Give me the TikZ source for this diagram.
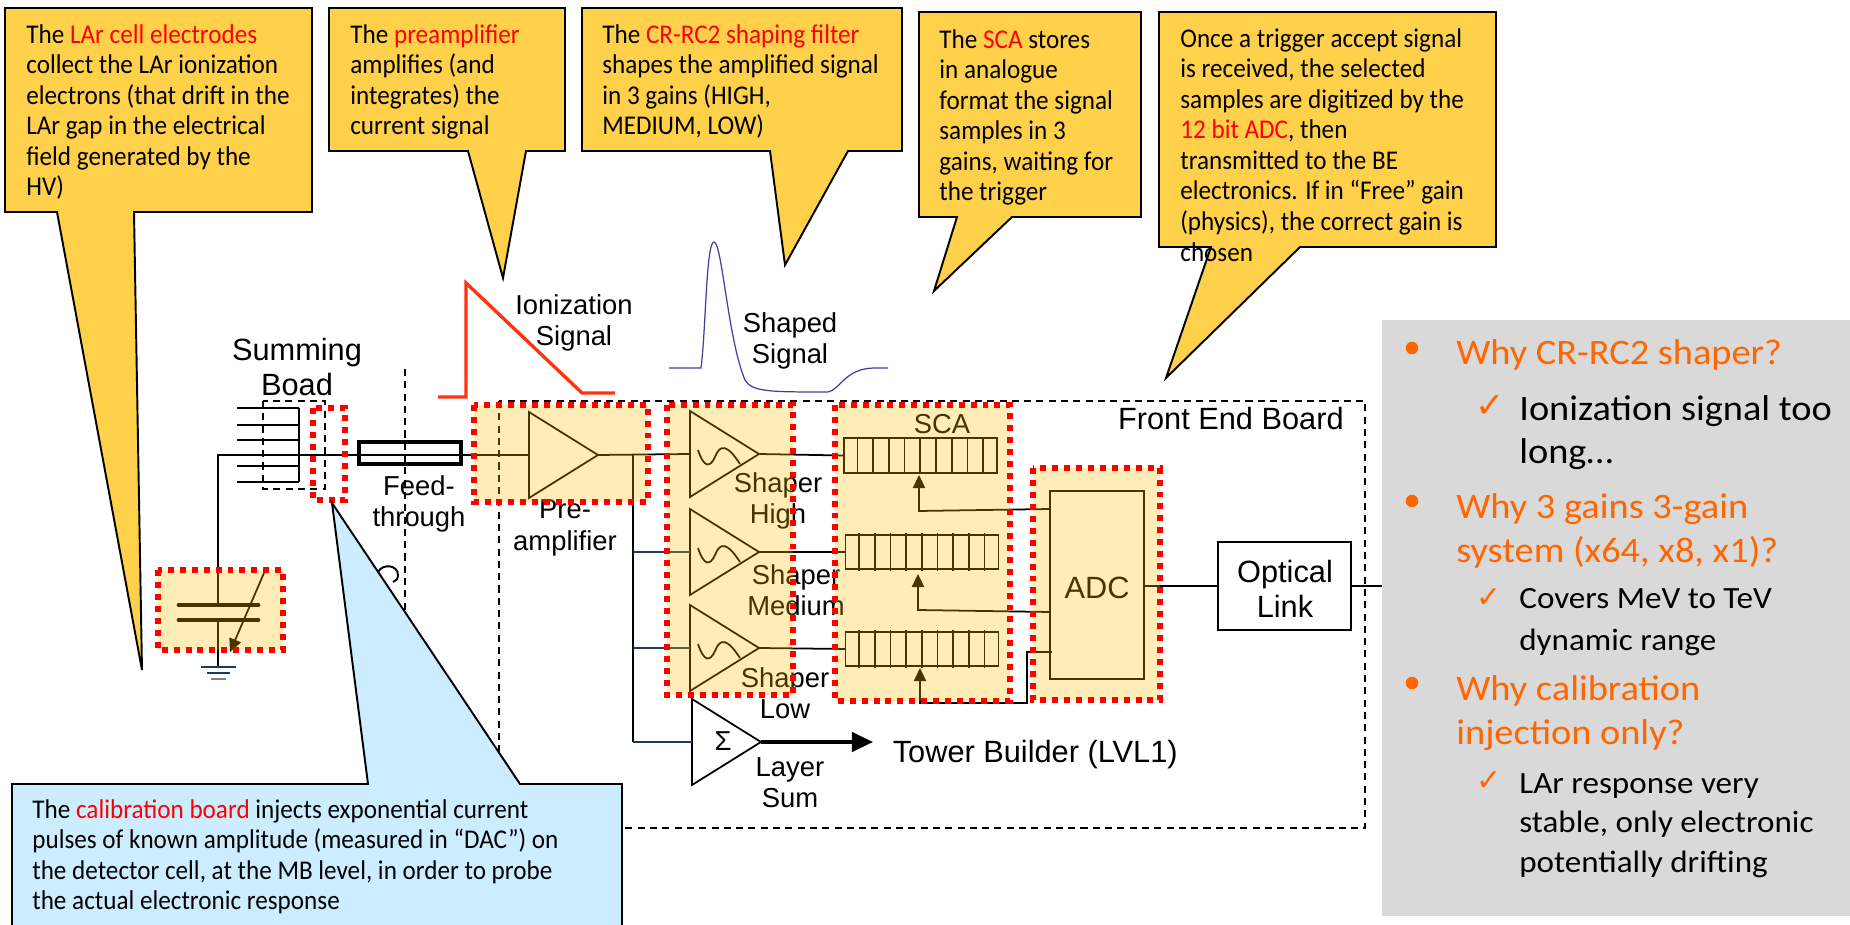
\documentclass[tikz,border=0pt]{standalone}
\usepackage{fontspec}
\setmainfont[FakeStretch=.93]{Carlito}
\newfontfamily\labelfont{Liberation Sans}
\newfontfamily\panelfont[FakeStretch=1.07]{Carlito}
\newfontfamily\tickfont{DejaVu Sans}
\usetikzlibrary{arrows.meta, shapes.geometric}

\definecolor{calloutyellow}{HTML}{FFD04A}
\definecolor{calloutblue}{HTML}{CCECFF}
\definecolor{hiliteyellow}{HTML}{FFC000}
\definecolor{panelgrey}{HTML}{D9D9D9}
\definecolor{panelorange}{HTML}{FF6600}
\definecolor{signalred}{HTML}{FF3311}
\definecolor{shapedblue}{HTML}{3F3FA0}
\definecolor{wirenavy}{HTML}{1F3864}

\newcommand{\redword}[1]{\textcolor{red}{#1}}

\tikzset{
    callout/.style={draw=black, line width=1.1pt, fill=calloutyellow},
    calibcallout/.style={draw=black, line width=1.1pt, fill=calloutblue},
    callouttext/.style={anchor=north west, inner sep=0pt, align=left, font=\fontsize{15.4}{17.4}\selectfont},
    boardline/.style={draw=black, line width=.8pt, dash pattern=on 4pt off 3pt},
    hilite/.style={draw=red, line width=3.6pt, dash pattern=on 3.4pt off 3.4pt, fill=hiliteyellow, fill opacity=.28},
    wire/.style={draw=black, line width=1pt},
    navywire/.style={draw=wirenavy, line width=1pt},
    amp/.style={draw=black, line width=1pt, isosceles triangle, isosceles triangle stretches, shape border rotate=0,
        minimum width=1.72cm, minimum height=1.38cm, inner sep=0pt, outer sep=0pt, anchor=apex},
    cellrow/.style={draw=black, line width=1pt, rectangle, minimum width=3.06cm, minimum height=.69cm, inner sep=0pt, outer sep=0pt},
    lbl/.style={inner sep=0pt, align=center, font=\labelfont\fontsize{17.5}{20}\selectfont},
    smalllbl/.style={inner sep=0pt, align=center, font=\labelfont\fontsize{15.6}{17.8}\selectfont},
    bulletdot/.style={circle, fill=panelorange, minimum size=.25cm, inner sep=0pt},
    tick/.style={inner sep=0pt, text=panelorange, font=\tickfont\fontsize{#1}{#1}\selectfont},
    headtext/.style={anchor=north west, inner sep=0pt, align=left, text=panelorange, font=\panelfont\fontsize{20.4}{25}\selectfont},
    subtext/.style 2 args={anchor=north west, inner sep=0pt, align=left, font=\panelfont\fontsize{#1}{#2}\selectfont},
}

\begin{document}
\begin{tikzpicture}[x=.02cm, y=-.02cm, >={Triangle[length=7.5pt,width=7pt]}]
    \useasboundingbox (0,0) rectangle (1850,925);

    % boards
    \draw[boardline] (499,401) rectangle (1365,828);
    \draw[boardline] (263,401) rectangle (325,489);
    \draw[boardline] (405,369) -- (405,640);
    \draw[line width=1.1pt] (378,572) .. controls (383,563) and (398,565) .. (398,575) .. controls (398,579) and (396,581) .. (393,582);

    % signals
    \draw[signalred, line width=1.9pt] (438,397) -- (466,397) -- (466,283) -- (582,393) -- (615,393);
    \draw[shapedblue, line width=.7pt] (669,368) -- (701,368) .. controls (706,330) and (706,242) .. (714,242)
        .. controls (722,242) and (728,340) .. (745,380) .. controls (752,392) and (770,392) .. (828,392)
        .. controls (840,390) and (845,368) .. (875,368) -- (888,368);

    % amplifiers
    \node[amp] (preamp) at (598,455) {};
    \node[amp] (shaperhigh) at (759,454) {};
    \node[amp] (shapermed) at (759,552) {};
    \node[amp] (shaperlow) at (759,648) {};
    \node[amp, minimum width=1.72cm] (layersum) at (761,742) {};
    \foreach \tipy in {454, 552, 648}
        \draw[line width=1pt] (698,\tipy-4) .. controls (704,\tipy+14) and (710,\tipy+14) .. (715,\tipy+3)
            .. controls (720,\tipy-10) and (727,\tipy-10) .. (740,\tipy+10);

    % sca and adc
    \node[cellrow] (scahigh) at (920.5,455.5) {};
    \node[cellrow] (scamed) at (922,552) {};
    \node[cellrow] (scalow) at (922,649) {};
    \foreach \row in {scahigh, scamed, scalow}
        \foreach \i in {0,...,8}
            \draw[line width=1pt] ([xshift=.27cm+\i*.314cm, yshift=-.03cm]\row.south west) -- ([xshift=.27cm+\i*.314cm, yshift=.03cm]\row.north west);
    \node[draw=black, line width=1pt, minimum width=1.88cm, minimum height=3.76cm, inner sep=0pt, outer sep=0pt] (adc) at (1097,585) {};
    \node[draw=black, line width=1pt, minimum width=2.66cm, minimum height=1.76cm, inner sep=0pt, outer sep=0pt] (optical) at (1284.5,586) {};
    \node[draw=black, line width=2pt, minimum width=2.04cm, minimum height=.44cm, inner sep=0pt, outer sep=0pt] (feedthrough) at (410,453) {};

    % wires
    \coordinate (gnd) at (218,667);
    \coordinate (corner) at (218,455);
    \coordinate (branch) at (633,455);
    \coordinate (panelend) at (1382,586);
    \draw[wire] (gnd) -- (218,620) (218,605) -- (corner) -- (preamp.lower side);
    \draw[wire] (preamp.apex) -- (shaperhigh.lower side);
    \draw[wire] (branch) -- (633,742);
    \draw[navywire] (633,552) -- (shapermed.lower side);
    \draw[navywire] (633,648) -- (shaperlow.lower side);
    \draw[navywire] (633,742) -- (layersum.lower side);
    \draw[wire] (shaperhigh.apex) -- (scahigh.west);
    \draw[wire] (shapermed.apex) -- (scamed.west);
    \draw[wire] (shaperlow.apex) -- (scalow.west);
    \draw[wire] (adc.east |- optical.west) -- (optical.west);
    \draw[wire] (optical.east) -- (panelend);
    \draw[wire, ->] (1050,509) -- (919,511) -- (919,475);
    \draw[wire, ->] (1050,612) -- (918,610) -- (918,574);
    \draw[wire, ->] (1052,652) -- (1027,652) -- (1027,703) -- (920,703) -- (920,668);
    \draw[line width=2pt, -{Triangle[length=12pt,width=11pt]}] (layersum.apex) -- (873,742);

    % summing board and capacitor
    \foreach \wirey in {408, 425, 440, 466, 482}
        \draw[wire] (237,\wirey) -- (299,\wirey);
    \draw[wire] (299,408) -- (299,482);
    \draw[line width=2.8pt, line cap=round] (179,605) -- (258,605) (179,620) -- (258,620);
    \draw[line width=1pt, ->] (264,573) -- (230,652);
    \draw[navywire] (201,667) -- (236,667) (207,673) -- (230,673);
    \draw[gray, line width=1pt] (211,679) -- (226,679);

    % labels
    \node[lbl] (summinglabel) at (297,367) {Summing\\Boad};
    \node[smalllbl] (feedlabel) at (419,504) {Feed-\\through};
    \node[smalllbl] (prelabel) at (565,528) {Pre-\\amplifier};
    \node[smalllbl] (ionlabel) at (574,323) {Ionization\\Signal};
    \node[smalllbl] (shapedlabel) at (790,341) {Shaped\\Signal};
    \node[lbl, anchor=east] (frontlabel) at (1344,419) {Front End Board};
    \node[smalllbl] (highlabel) at (778,501) {Shaper\\High};
    \node[smalllbl] (medlabel) at (796,590) {Shaper\\Medium};
    \node[smalllbl] (lowlabel) at (785,693) {Shaper\\Low};
    \node[smalllbl] (scalabel) at (942,424) {SCA};
    \node[lbl] (adclabel) at (1097,588) {ADC};
    \node[lbl] (opticallabel) at (1285,589) {Optical\\Link};
    \node[smalllbl] (sumsign) at (723,741) {Σ};
    \node[smalllbl] (layerlabel) at (790,783) {Layer\\Sum};
    \node[lbl, anchor=east] (towerlabel) at (1178,755) {Tower Builder (LVL1)};

    % highlighted parts
    \draw[draw=red, line width=3.6pt, dash pattern=on 3.4pt off 3.4pt] (313,408) rectangle (345,500);
    \draw[hilite] (158,570) rectangle (283,650);
    \draw[hilite] (474,405) rectangle (648,502);
    \draw[hilite] (667,405) rectangle (793,695);
    \draw[hilite] (835,405) rectangle (1010,701);
    \draw[hilite] (1033,468) rectangle (1160,700);

    % callouts
    \draw[callout] (5,8) -- (312,8) -- (312,212) -- (134,212) -- (142,670) -- (57,212) -- (5,212) -- cycle;
    \draw[callout] (329,8) -- (565,8) -- (565,151) -- (526,151) -- (503,278) -- (468,151) -- (329,151) -- cycle;
    \draw[callout] (582,8) -- (902,8) -- (902,151) -- (848,151) -- (785,265) -- (770,151) -- (582,151) -- cycle;
    \draw[callout] (919,12) -- (1141,12) -- (1141,217) -- (1012,217) -- (934,291) -- (957,217) -- (919,217) -- cycle;
    \draw[callout] (1159,12) -- (1496,12) -- (1496,247) -- (1300,247) -- (1166,378) -- (1211,247) -- (1159,247) -- cycle;
    \draw[calibcallout] (12,930) -- (12,784) -- (368,784) -- (332,503) -- (520,784) -- (622,784) -- (622,930);

    \node[callouttext] (larnote) at (26,24) {The \redword{LAr cell electrodes}\\collect the LAr ionization\\electrons (that drift in the\\LAr gap in the electrical\\field generated by the\\HV)};
    \node[callouttext] (prenote) at (350,24) {The \redword{preamplifier}\\amplifies (and\\integrates) the\\current signal};
    \node[callouttext] (shapernote) at (602,24) {The \redword{CR-RC2 shaping filter}\\shapes the amplified signal\\in 3 gains (HIGH,\\MEDIUM, LOW)};
    \node[callouttext] (scanote) at (939,29) {The \redword{SCA} stores\\in analogue\\format the signal\\samples in 3\\gains, waiting for\\the trigger};
    \node[callouttext] (adcnote) at (1180,28) {Once a trigger accept signal\\is received, the selected\\samples are digitized by the\\\redword{12 bit ADC}, then\\transmitted to the BE\\electronics. If in “Free” gain\\(physics), the correct gain is\\chosen};
    \node[callouttext] (calibnote) at (32,799) {The \redword{calibration board} injects exponential current\\pulses of known amplitude (measured in “DAC”) on\\the detector cell, at the MB level, in order to probe\\the actual electronic response};

    % questions
    \fill[panelgrey] (1382,320) rectangle (1850,916);
    \node[bulletdot] (dotone) at (1412,348) {};
    \node[bulletdot] (dottwo) at (1412,501) {};
    \node[bulletdot] (dotthree) at (1412,683) {};
    \node[tick=20] (tickone) at (1490,406) {✓};
    \node[tick=17] (ticktwo) at (1489,598) {✓};
    \node[tick=17] (tickthree) at (1489,781) {✓};
    \node[headtext] (whyshaper) at (1456,339) {Why CR-RC2 shaper?};
    \node[subtext={20.4}{24.5}] (answerone) at (1519,395) {Ionization signal too\\long…};
    \node[headtext] (whygains) at (1456,493) {Why 3 gains 3-gain\\system (x64, x8, x1)?};
    \node[subtext={17.6}{24}] (answertwo) at (1519,588) {Covers MeV to TeV\\dynamic range};
    \node[headtext] (whycalib) at (1456,675) {Why calibration\\injection only?};
    \node[subtext={17.6}{22.5}] (answerthree) at (1519,773) {LAr response very\\stable, only electronic\\potentially drifting};
\end{tikzpicture}
\end{document}
